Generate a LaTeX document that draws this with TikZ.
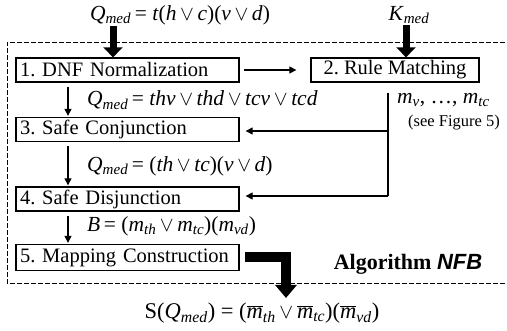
\documentclass[tikz,border=0pt]{standalone}
\usepackage{fontspec}
\setmainfont{Liberation Serif}
\newfontfamily\nfbfont{Liberation Sans}
\usetikzlibrary{arrows.meta}
\frenchspacing
\newcommand\orv{\,$\vee$\,}
\newcommand\sbs[1]{\textsubscript{\textit{#1}}}
\newcommand\mi[1]{\textit{#1}}
\newcommand\mbar{$\overline{\mbox{\textit{m}}}$}
\begin{document}
\begin{tikzpicture}[x=1pt,y=-1pt,
  font=\fontsize{20.5}{23}\selectfont,
  formula/.style={font=\fontsize{21.5}{24}\selectfont, inner sep=1pt},
  stepbox/.style={draw, line width=1.3pt, text width=215pt, align=left, inner xsep=4pt, inner ysep=0pt, minimum height=24pt},
  rulebox/.style={draw, line width=1.3pt, minimum width=168pt, inner ysep=0pt, minimum height=24pt},
  thinarrow/.style={line width=1.1pt, -{Triangle[length=7pt,width=7pt]}},
  fatarrow/.style={line width=7pt, -{Triangle[length=10pt,width=19pt]}},
  bentarrow/.style={line width=10pt, line join=miter, -{Triangle[length=13pt,width=21pt]}},
  framestyle/.style={line width=0.9pt, dash pattern=on 5pt off 2pt}]
\useasboundingbox (0,0) rectangle (507,331);
% frame
\draw[framestyle] (505,42) -- (7,42) -- (7,283) -- (505,283);
% boxes
\node[stepbox] (s1) at (127.5,70) {1. DNF Normalization};
\node[rulebox] (s2) at (395,70) {2. Rule Matching};
\node[stepbox] (s3) at (127.5,129.5) {3. Safe Conjunction};
\node[stepbox] (s4) at (127.5,199) {4. Safe Disjunction};
\node[stepbox, minimum height=26pt] (s5) at (127.5,257.5) {5. Mapping Construction};
% texts
\node[formula] (q0) at (180,15) {\mi{Q}\sbs{med}\,= \mi{t}(\mi{h}\orv\mi{c})(\mi{v}\orv\mi{d})};
\node[formula] (k) at (409,15) {\mi{K}\sbs{med}};
\node[formula, anchor=west] (q1) at (86,100) {\mi{Q}\sbs{med}\,= \mi{thv}\orv\mi{thd}\orv\mi{tcv}\orv\mi{tcd}};
\node[formula, anchor=west] (q2) at (86,166) {\mi{Q}\sbs{med}\,= (\mi{th}\orv\mi{tc})(\mi{v}\orv\mi{d})};
\node[formula, anchor=west] (b) at (86,226) {\mi{B}\,= (\mi{m}\sbs{th}\orv\mi{m}\sbs{tc})(\mi{m}\sbs{vd})};
\node[formula, anchor=west] (m) at (396,100) {\mi{m}\sbs{v}, …, \mi{m}\sbs{tc}};
\node[anchor=west, font=\fontsize{16.5}{18}\selectfont, inner sep=1pt] (see) at (407,123) {(see Figure 5)};
\node[font=\fontsize{22}{24}\selectfont] (alg) at (408,264) {\bfseries Algorithm {\nfbfont\bfseries\itshape NFB}};
\node[formula, font=\fontsize{22.5}{25}\selectfont] (res) at (262,313) {S(\mi{Q}\sbs{med}) = (\mbar\sbs{th}\orv\mbar\sbs{tc})(\mbar\sbs{vd})};
% thick input arrows
\draw[fatarrow] ([xshift=-14.5pt]s1.north |- q0.south) -- ([xshift=-14.5pt]s1.north);
\draw[fatarrow] (k.south -| 406,0) -- (s2.north -| 406,0);
% step arrows
\draw[thinarrow, shorten <=4pt, shorten >=14pt] (s1.east) -- (s2.west);
\draw[thinarrow, shorten <=4pt, shorten >=1pt] ([xshift=-59.5pt]s1.south) -- ([xshift=-59.5pt]s3.north);
\draw[thinarrow, shorten <=4pt, shorten >=1pt] ([xshift=-59.5pt]s3.south) -- ([xshift=-59.5pt]s4.north);
\draw[thinarrow, shorten <=4pt, shorten >=1pt] ([xshift=-59.5pt]s4.south) -- ([xshift=-59.5pt]s5.north);
% rule matching results
\coordinate (vtop) at ([xshift=-7pt,yshift=-10pt]s2.south);
\draw[line width=1.1pt] (vtop) -- ([yshift=3pt]vtop |- s4.east);
\draw[thinarrow, shorten >=6pt] ([yshift=-1.5pt]vtop |- s3.east) -- ([yshift=-1.5pt]s3.east);
\draw[thinarrow, shorten >=6pt] ([yshift=3pt]vtop |- s4.east) -- ([yshift=3pt]s4.east);
% output arrow
\coordinate (tip) at (286,298);
\draw[bentarrow] ([xshift=5pt]s5.east) -| (tip);
\end{tikzpicture}
\end{document}
